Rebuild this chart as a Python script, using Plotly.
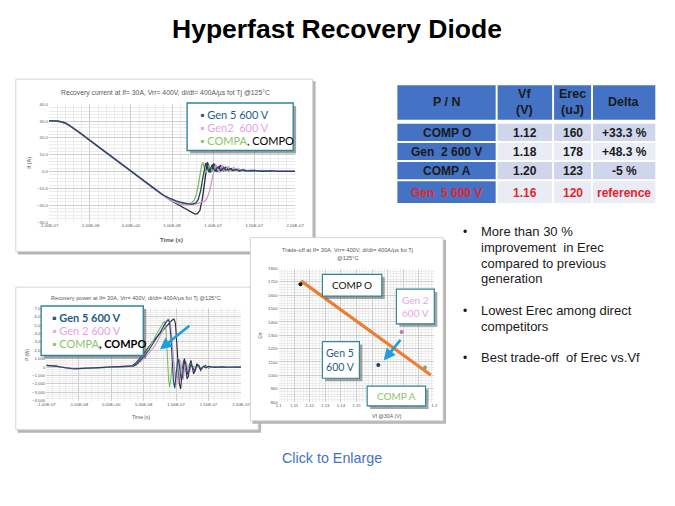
import plotly.graph_objects as go

W, H = 675, 506


def px(x):
    return x / W


def py(y):
    return 1 - y / H


# ---------------- DATA ----------------
# Chart 1 : recovery current (time in ns, current in A)
cur_gen5_t = [-100, -95, -90, -85, -80, -75, -70, -60, -50, -40, -30, -20, -10, 0, 10, 20, 30, 38,
              45, 50, 55, 60, 65, 70, 75, 79, 82, 85, 87, 89, 91, 93, 95, 97, 99, 101, 103, 105, 107,
              109, 111, 113, 115, 118, 121, 124, 128, 132, 136, 140, 150, 160, 170, 180, 190, 200]
cur_gen5_i = [30.2, 30.2, 30.0, 29.6, 28.8, 27.4, 25.8, 22.2, 18.5, 14.8, 11.1, 7.4, 3.7, 0.0, -3.7, -7.4, -11.0, -13.6,
              -15.4, -16.5, -17.4, -18.2, -18.8, -19.2, -19.3, -18.6, -16.5, -11.0, -5.0, 1.0, 5.0, 3.0, -0.5, 1.5, 4.2, 1.5, 0.0, 2.5, 3.0,
              0.5, 1.0, 2.5, 1.0, 1.0, 1.8, 0.6, 1.3, 0.5, 1.0, 0.4, 0.6, 0.2, 0.4, 0.1, 0.2, 0.1]

cur_gen2_t = [-100, -95, -90, -85, -80, -75, -70, -60, -50, -40, -30, -20, -10, 0, 10, 20, 30, 38,
              45, 50, 55, 60, 65, 70, 75, 80, 85, 90, 93, 96, 99, 101, 103, 105, 107, 109, 111, 113, 115,
              117, 119, 121, 123, 125, 128, 131, 134, 138, 142, 146, 150, 160, 170, 180, 190, 200]
cur_gen2_i = [30.0, 30.0, 29.9, 29.5, 28.7, 27.3, 25.7, 22.1, 18.4, 14.7, 11.0, 7.3, 3.6, -0.1, -3.8, -7.5, -11.1, -13.8,
              -16.2, -17.6, -18.6, -19.3, -19.7, -19.7, -19.4, -19.0, -18.5, -17.6, -15.5, -11.0, -4.0, 1.0, 4.5, 2.5, -0.5, 1.5, 4.0, 1.5, 0.0,
              2.5, 3.0, 0.8, 1.0, 2.5, 0.8, 1.8, 0.6, 1.4, 0.5, 1.0, 0.4, 0.7, 0.3, 0.5, 0.2, 0.3]

cur_compa_t = [-100, -95, -90, -85, -80, -75, -70, -60, -50, -40, -30, -20, -10, 0, 10, 20, 30, 38,
               45, 50, 55, 60, 65, 70, 74, 77, 80, 82, 84, 86, 87.5, 89, 91, 93, 95, 97, 99, 101, 103,
               105, 108, 111, 115, 120, 130, 140, 150, 170, 200]
cur_compa_i = [30.1, 30.1, 29.9, 29.5, 28.7, 27.4, 25.8, 22.2, 18.5, 14.8, 11.1, 7.4, 3.7, 0.0, -3.7, -7.4, -11.0, -13.5,
               -15.6, -16.8, -17.8, -18.6, -19.1, -19.1, -18.6, -17.0, -13.0, -8.0, -2.0, 3.5, 5.5, 3.0, -0.5, 1.0, 3.8, 1.5, 0.0, 2.0, 2.8,
               0.8, 1.5, 0.5, 1.2, 0.4, 0.8, 0.3, 0.5, 0.2, 0.2]

cur_compo_t = [-100, -95, -90, -85, -80, -75, -70, -60, -50, -40, -30, -20, -10, 0, 10, 20, 30, 38,
               45, 50, 55, 60, 65, 70, 75, 78, 81, 84, 87, 89, 91, 93, 95, 97, 99, 101, 103, 105, 107,
               109, 111, 113, 115, 117, 119, 122, 125, 128, 132, 136, 140, 150, 160, 170, 180, 190, 200]
cur_compo_i = [30.3, 30.3, 30.1, 29.7, 28.9, 27.5, 25.9, 22.3, 18.6, 14.9, 11.2, 7.5, 3.8, 0.1, -3.6, -7.3, -11.0, -13.7,
               -16.0, -17.6, -19.0, -20.4, -21.9, -23.3, -24.5, -25.2, -25.0, -23.0, -16.0, -8.0, 0.0, 5.5, 3.0, -0.5, 1.5, 4.8, 2.0, -0.3, 2.0,
               3.8, 1.0, 0.5, 2.5, 2.2, 0.5, 1.8, 0.6, 1.4, 0.4, 1.0, 0.4, 0.7, 0.2, 0.4, 0.1, 0.3, 0.1]

time_tick_vals = [-100, -50, 0, 50, 100, 150, 200]
time_tick_text = ["-1.00E-07", "-5.00E-08", "0.00E+00", "5.00E-08", "1.00E-07", "1.50E-07", "2.00E-07"]

# Chart 2 : recovery power (time in ns, power in W)
pow_gen5_t = [-100, -92, -85, -78, -70, -62, -55, -48, -40, -30, -20, -10, 0, 10, 20, 30,
              35, 40, 46, 52, 58, 64, 70, 76, 81, 85, 88, 90, 92, 94, 96, 98, 100, 102, 104, 106, 108,
              110, 112, 114, 116, 118, 120, 123, 126, 129, 132, 135, 138, 142, 146, 150, 160, 170, 180, 190, 200]
pow_gen5_p = [200, 190, 120, 20, -90, -160, -190, -170, -120, -60, -20, 0, 20, 40, 50, 70,
              150, 400, 850, 1400, 2000, 2700, 3400, 4200, 4900, 5400, 5600, 5300, 3600, 800, -1700, -2500, -1200, 600, 900, -400, -1600,
              -1100, 300, 700, -200, -900, -500, 400, -100, -500, 200, 200, -300, 100, -100, 80, -40, 30, -20, 10, 0]

pow_gen2_t = [-100, -92, -85, -78, -70, -62, -55, -48, -40, -30, -20, -10, 0, 10, 20, 30,
              35, 40, 46, 52, 58, 64, 70, 75, 80, 84, 87, 89, 91, 93, 95, 97, 99, 101, 103, 105, 107,
              109, 111, 113, 115, 117, 119, 121, 124, 127, 130, 133, 136, 139, 143, 147, 152, 160, 170, 180, 190, 200]
pow_gen2_p = [180, 170, 100, 0, -110, -180, -210, -190, -140, -70, -30, -10, 10, 30, 40, 60,
              120, 300, 650, 1100, 1650, 2200, 2900, 3600, 4400, 5200, 5700, 5700, 5300, 4000, 2000, -200, -1800, -2100, -600, 900, 700,
              -800, -1500, -300, 700, 200, -800, -600, 400, 0, -400, 200, 100, -300, 100, -100, 80, -50, 40, -20, 10, 0]

pow_compa_t = [-100, -92, -85, -78, -70, -62, -55, -48, -40, -30, -20, -10, 0, 10, 20, 30,
               35, 40, 46, 52, 58, 63, 68, 73, 77, 80, 82, 84, 85.5, 87, 88.5, 90, 92, 94, 96, 98, 100,
               102, 104, 106, 108, 110, 113, 116, 120, 125, 130, 140, 150, 170, 200]
pow_compa_p = [210, 200, 130, 30, -80, -150, -180, -160, -110, -50, -10, 10, 30, 50, 60, 80,
               140, 380, 850, 1500, 2200, 2900, 3600, 4300, 4900, 5300, 5400, 5000, 3000, 500, -1500, -2400, -1400, 400, 700, -500, -1300,
               -500, 500, 300, -600, -400, 300, -200, 200, -100, 80, -40, 30, 0, 0]

pow_compo_t = [-100, -92, -85, -78, -70, -62, -55, -48, -40, -30, -20, -10, 0, 10, 20, 28,
               33, 38, 44, 50, 56, 62, 68, 74, 80, 85, 90, 94, 97, 99, 101, 103, 105, 107, 109, 111, 113,
               115, 117, 119, 121, 123, 125, 127, 129, 132, 135, 138, 141, 145, 150, 160, 170, 180, 190, 200]
pow_compo_p = [190, 180, 110, 10, -100, -170, -200, -180, -130, -60, -20, 0, 20, 40, 60, 90,
               200, 500, 1000, 1600, 2300, 2900, 3400, 3900, 4400, 4900, 5300, 5600, 5700, 5200, 3000, 300, -1900, -2600, -1200, 500, 1000,
               -200, -1400, -1100, 300, 800, 0, -800, -500, 400, 100, -400, -100, 200, -100, 60, -30, 20, 0, 0]

# Chart 3 : trade-off (Vf in V, Err)
to_names = ["COMP O", "Gen 2 600 V", "Gen 5 600 V", "COMP A"]
to_vf = [1.114, 1.179, 1.164, 1.194]
to_err = [1683, 1325, 1077, 1058]
trend_vf = [1.1144, 1.1977]
trend_err = [1708, 1003]

# Table
tbl_header = ["P / N", "Vf<br>(V)", "Erec<br>(uJ)", "Delta"]
tbl_pn = ["COMP O", "Gen  2 600 V", "COMP A", "Gen  5 600 V"]
tbl_vf = ["1.12", "1.18", "1.20", "1.16"]
tbl_erec = ["160", "178", "123", "120"]
tbl_delta = ["+33.3 %", "+48.3 %", "-5 %", "reference"]

bullets = [["More than 30 %", "improvement  in Erec", "compared to previous", "generation"],
           ["Lowest Erec among direct", "competitors"],
           ["Best trade-off  of Erec vs.Vf"]]

# ---------------- STYLE ----------------
C_GEN5 = "#22406e"
C_GEN2 = "#d394d6"
C_COMPA = "#7cbf5a"
C_COMPO = "#2b2b2b"
T_GEN5 = "#1f5c8b"
T_GEN2 = "#e8a2e6"
T_COMPA = "#8cc46a"
TEAL = "#31869b"
ARROW = "#1f9fd9"
SANS = "Liberation Sans"
CAL = "Lato"

fig = go.Figure()

# chart 1 traces
for t, v, c in [(cur_compo_t, cur_compo_i, C_COMPO), (cur_compa_t, cur_compa_i, C_COMPA),
                (cur_gen2_t, cur_gen2_i, C_GEN2), (cur_gen5_t, cur_gen5_i, C_GEN5)]:
    fig.add_trace(go.Scatter(x=t, y=v, mode="lines", line=dict(color=c, width=1.3),
                             xaxis="x", yaxis="y", showlegend=False, hoverinfo="skip"))

# chart 2 traces
for t, v, c in [(pow_compo_t, pow_compo_p, C_COMPO), (pow_compa_t, pow_compa_p, C_COMPA),
                (pow_gen2_t, pow_gen2_p, C_GEN2), (pow_gen5_t, pow_gen5_p, C_GEN5)]:
    fig.add_trace(go.Scatter(x=t, y=v, mode="lines", line=dict(color=c, width=1.1),
                             xaxis="x2", yaxis="y2", showlegend=False, hoverinfo="skip"))

# chart 3 traces
fig.add_trace(go.Scatter(x=trend_vf, y=trend_err, mode="lines", line=dict(color="#ed7d31", width=3.2),
                         xaxis="x3", yaxis="y3", showlegend=False, hoverinfo="skip"))
fig.add_trace(go.Scatter(x=to_vf, y=to_err, mode="markers", text=to_names,
                         marker=dict(color=["#111111", "#b77ab9", "#1f3864", "#8aa07a"], size=4),
                         xaxis="x3", yaxis="y3", showlegend=False, hoverinfo="skip"))

tickfont = dict(family=SANS, size=4.3, color="#595959")
grid = dict(showgrid=True, gridcolor="#cfcfcf", gridwidth=0.8, zeroline=False, showline=False,
            ticks="", tickfont=tickfont, fixedrange=True)

fig.update_layout(
    width=W, height=H, margin=dict(l=0, r=0, t=0, b=0),
    paper_bgcolor="white", plot_bgcolor="rgba(0,0,0,0)",
    xaxis=dict(domain=[px(41), px(294)], range=[-100, 200], anchor="y",
               tickvals=time_tick_vals, ticktext=time_tick_text,
               minor=dict(dtick=10, showgrid=True, gridcolor="#ececec", gridwidth=0.6), **grid),
    yaxis=dict(domain=[py(222.3), py(103.3)], range=[-30, 40], anchor="x", dtick=10,
               tickformat=".1f", minor=dict(dtick=2, showgrid=True, gridcolor="#ececec", gridwidth=0.6), **grid),
    xaxis2=dict(domain=[px(38.3), px(238.3)], range=[-100, 200], anchor="y2",
                tickvals=time_tick_vals, ticktext=time_tick_text,
                minor=dict(dtick=10, showgrid=True, gridcolor="#ececec", gridwidth=0.6), **grid),
    yaxis2=dict(domain=[py(402.7), py(309.3)], range=[-4000, 7000], anchor="x2", dtick=1000,
                tickformat=",d", minor=dict(dtick=250, showgrid=True, gridcolor="#ececec", gridwidth=0.6), **grid),
    xaxis3=dict(domain=[px(277), px(437)], range=[1.1, 1.2], anchor="y3", dtick=0.01, tick0=1.1,
                minor=dict(dtick=0.002, showgrid=True, gridcolor="#ececec", gridwidth=0.6), **grid),
    yaxis3=dict(domain=[py(404), py(269.3)], range=[800, 1800], anchor="x3", dtick=100,
                minor=dict(dtick=20, showgrid=True, gridcolor="#ececec", gridwidth=0.6), **grid),
)

shapes = []
annotations = []


def rect(x0, y0, x1, y1, fill, line="rgba(0,0,0,0)", lw=0, layer="below"):
    shapes.append(dict(type="rect", xref="paper", yref="paper", x0=px(x0), x1=px(x1), y0=py(y1), y1=py(y0),
                       fillcolor=fill, line=dict(color=line, width=lw), layer=layer))


def text(x, y, s, size, color="#000000", family=SANS, xanchor="center", yanchor="middle", angle=0):
    annotations.append(dict(x=px(x), y=py(y), xref="paper", yref="paper", text=s, showarrow=False,
                            font=dict(family=family, size=size, color=color), xanchor=xanchor,
                            yanchor=yanchor, textangle=angle, borderpad=0))


def panel(x0, y0, x1, y1):
    rect(x0 + 2, y0 + 2, x1 + 3, y1 + 3, "#b5b5b5")
    rect(x0, y0, x1, y1, "white", "#d4d4d4", 1)


def callout(x0, y0, x1, y1, lw=1.4):
    rect(x0 + 3, y0 + 3, x1 + 3, y1 + 3, "rgba(90,90,90,0.55)", layer="above")
    rect(x0, y0, x1, y1, "white", TEAL, lw, layer="above")


# panels
panel(7, 78, 312, 252)
panel(7, 288, 256, 432)
panel(248, 238, 446, 423)

# chart 1 texts
text(161, 92, "Recovery current at If= 30A, Vrr= 400V, di/dt= 400A/µs fot Tj @125°C", 6.8, "#595959")
text(21, 162, "If (A)", 5.5, "#595959", angle=-90)
text(167, 240, "<b>Time (s)</b>", 6, "#595959")

# chart 2 texts
text(130, 299, "Recovery power at If= 30A, Vrr= 400V, di/dt= 400A/µs fot Tj @125°C", 5.6, "#595959")
text(19, 356, "P (W)", 4.8, "#595959", angle=-90)
text(136, 419, "Time (s)", 5, "#595959")

# chart 3 texts
text(348, 250, "Trade-off at If= 30A, Vrr= 400V, di/dt= 400A/µs fot Tj", 5.7, "#595959")
text(348, 259, "@125°C", 5.7, "#595959")
text(258, 337, "Err", 5, "#595959", angle=-90)
text(388, 418, "Vf @30A (V)", 5.3, "#595959")

# legend box 1
callout(183, 102, 292, 150)
text(195, 113.5, f"<span style='color:{T_GEN5}'>▪ Gen 5 600 V</span>", 11, family=CAL, xanchor="left")
text(195, 126.5, f"<span style='color:{T_GEN2}'>▪ Gen2  600 V</span>", 11, family=CAL, xanchor="left")
text(195, 139.5, f"<span style='color:{T_COMPA}'>▪ COMPA</span><span style='color:#000'>, COMPO</span>",
     11, family=CAL, xanchor="left")

# legend box 2
callout(33, 307, 138, 357)
text(43, 319, f"<span style='color:{T_GEN5}'><b>▪ Gen 5 600 V</b></span>", 11, family=CAL, xanchor="left")
text(43, 331.5, f"<span style='color:{T_GEN2}'>▪ Gen 2 600 V</span>", 11, family=CAL, xanchor="left")
text(43, 344.5, f"<span style='color:{T_COMPA}'>▪ COMPA</span><span style='color:#000'><b>, COMPO</b></span>",
     11, family=CAL, xanchor="left")

# chart 3 callouts
callout(322, 275, 383, 297, 1.2)
text(352.5, 286, "COMP O", 10, "#111111", family=CAL)
callout(398, 290, 437, 325, 1.2)
text(417.5, 307.5, "Gen 2<br>600 V", 10, T_GEN2, family=CAL)
callout(322, 343, 360, 380, 1.2)
text(341, 361.5, "Gen 5<br>600 V", 10.5, T_GEN5, family=CAL)
callout(368, 388, 428, 408, 1.2)
text(398, 398, "COMP A", 10, T_COMPA, family=CAL)

# blue arrows
for hx, hy, tx, ty in [(155, 351, 186, 326), (385, 362, 403, 340)]:
    annotations.append(dict(x=px(hx), y=py(hy), xref="paper", yref="paper", ax=tx - hx, ay=ty - hy,
                            showarrow=True, arrowcolor=ARROW, arrowwidth=2.6, arrowhead=2, arrowsize=0.9,
                            text=""))

# table
col_x = [(399, 500), (502, 558), (560, 598), (600, 664)]
row_y = [(123, 140.5), (142.5, 159.5), (161.5, 179), (181, 203)]
HDR = "#4472c4"
body_fill = ["#cfd5ea", "#e9ebf5", "#cfd5ea", "#e9ebf5"]
for (x0, x1), h in zip(col_x, tbl_header):
    rect(x0, 84, x1, 119, HDR)
    text((x0 + x1) / 2, 101.5, f"<b>{h}</b>", 12.5, "#1a1a1a")
for r, (y0, y1) in enumerate(row_y):
    red = r == 3
    tc = "#e3262b" if red else "#1a1a1a"
    cells = [tbl_pn[r], tbl_vf[r], tbl_erec[r], tbl_delta[r]]
    for c, ((x0, x1), s) in enumerate(zip(col_x, cells)):
        rect(x0, y0, x1, y1, HDR if c == 0 else body_fill[r])
        text((x0 + x1) / 2, (y0 + y1) / 2 + 0.5, f"<b>{s}</b>", 12, tc)

# bullets
bullet_y0 = [232, 312, 359.5]
for lines, y0 in zip(bullets, bullet_y0):
    text(469, y0, "•", 12, "#1a1a1a")
    for k, s in enumerate(lines):
        text(484, y0 + 15.9 * k, s, 13, "#1a1a1a", xanchor="left")

# title and link
text(337, 27, "<b>Hyperfast Recovery Diode</b>", 26.5, "#000000")
text(332, 461, "Click to Enlarge", 14.3, "#4472c4")

fig.update_layout(shapes=shapes, annotations=annotations)
fig.write_html("out.html", config={"displayModeBar": False},
               post_script="document.body.style.margin='0px';document.body.style.overflow='hidden';")
